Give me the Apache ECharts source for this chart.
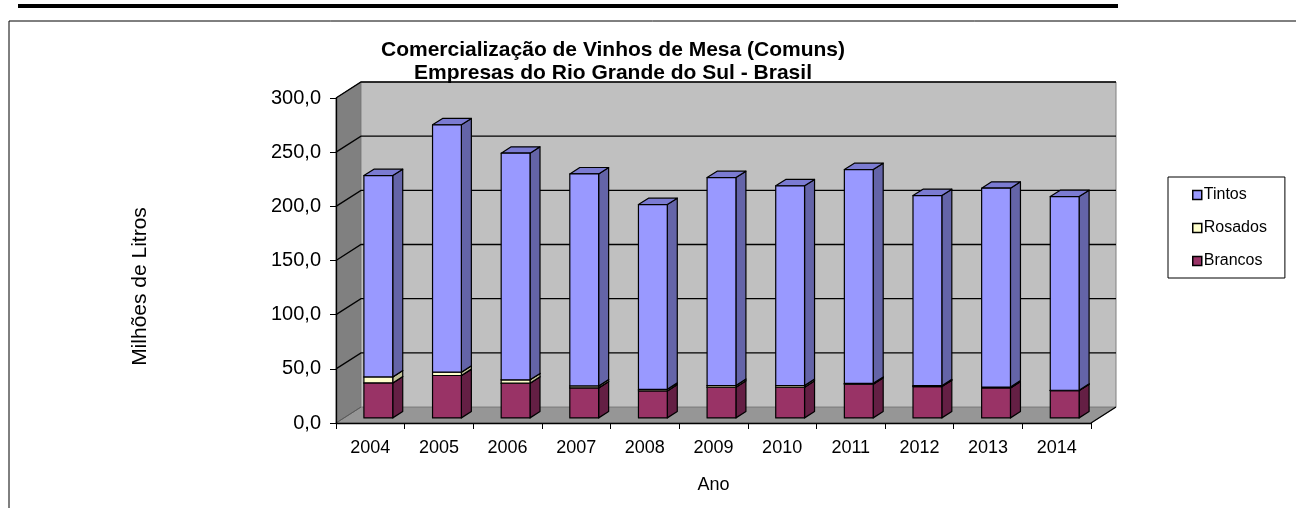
<!DOCTYPE html>
<html>
<head>
<meta charset="utf-8">
<script src="https://cdn.jsdelivr.net/npm/echarts@6/dist/echarts.min.js"></script>
<style>
html,body{margin:0;padding:0;background:#ffffff;}
#chart{width:1296px;height:508px;}
</style>
</head>
<body>
<div id="chart"></div>
<script>
// ---------- data ----------
const years   = ['2004','2005','2006','2007','2008','2009','2010','2011','2012','2013','2014'];
const brancos = [32.3, 39.1, 32.0, 27.7, 24.9, 28.3, 28.3, 31.1, 28.9, 27.7, 25.2];
const rosados = [5.5, 3.1, 3.1, 1.8, 1.5, 1.6, 1.6, 0.8, 0.8, 0.8, 0.3];
const tintos  = [185.9, 228.3, 209.2, 195.7, 170.5, 191.9, 184.3, 197.3, 175.5, 183.5, 178.8];
const yTicks  = [0, 50, 100, 150, 200, 250, 300];
const seriesNames = ['Brancos', 'Rosados', 'Tintos'];

// ---------- style ----------
const FONT = '"Liberation Sans", Arial, sans-serif';
const WALL_DX = 25, WALL_DY = -16;           // depth of the 3D box (px)
const BAR_FRONT = 0.32, BAR_BACK = 0.72;      // bar position inside the depth
const BAR_W = 0.42;                            // bar width as share of band
const palette = {
  Tintos:  {front:'#9999FF', top:'#7B7BD2', side:'#6464A8'},
  Rosados: {front:'#FFFFCC', top:'#D6D6A8', side:'#BDBD96'},
  Brancos: {front:'#993366', top:'#7D2A54', side:'#641F44'}
};

// stacked bases
const stackData = {};
(function(){
  const vals = {Brancos: brancos, Rosados: rosados, Tintos: tintos};
  const base = years.map(() => 0);
  seriesNames.forEach(n => {
    stackData[n] = years.map((y, i) => {
      const b = base[i], t = b + vals[n][i];
      base[i] = t;
      return [i, b, t];
    });
  });
})();

function wallsRender(params, api) {
  const cs = params.coordSys;
  const x0 = cs.x, x1 = cs.x + cs.width;
  const yv = v => api.coord([0, v])[1];
  const yTop = yv(yTicks[yTicks.length - 1]), yBot = yv(yTicks[0]);
  const ch = [];
  ch.push({type:'polygon', shape:{points:[[x0,yBot],[x1,yBot],[x1+WALL_DX,yBot+WALL_DY],[x0+WALL_DX,yBot+WALL_DY]]},
           style:{fill:'#969696', stroke:'#808080', lineWidth:1}});
  ch.push({type:'polygon', shape:{points:[[x0,yTop],[x0+WALL_DX,yTop+WALL_DY],[x0+WALL_DX,yBot+WALL_DY],[x0,yBot]]},
           style:{fill:'#808080', stroke:'#6a6a6a', lineWidth:1}});
  ch.push({type:'polygon', shape:{points:[[x0+WALL_DX,yTop+WALL_DY],[x1+WALL_DX,yTop+WALL_DY],[x1+WALL_DX,yBot+WALL_DY],[x0+WALL_DX,yBot+WALL_DY]]},
           style:{fill:'#C0C0C0', stroke:'#808080', lineWidth:1}});
  yTicks.forEach(v => {
    const y = yv(v);
    if (v === yTicks[0]) {
      ch.push({type:'line', shape:{x1:x0,y1:y,x2:x0+WALL_DX,y2:y+WALL_DY}, style:{stroke:'#5a5a5a', lineWidth:1}});
    } else {
      ch.push({type:'polyline', shape:{points:[[x0,y],[x0+WALL_DX,y+WALL_DY],[x1+WALL_DX,y+WALL_DY]]},
               style:{stroke:'#000', lineWidth:1.3, fill:null}});
    }
  });
  ch.push({type:'line', shape:{x1:x1,y1:yBot,x2:x1+WALL_DX,y2:yBot+WALL_DY}, style:{stroke:'#000', lineWidth:1.3}});
  return {type:'group', children: ch};
}

function makeBarRender(name) {
  const c = palette[name];
  return function(params, api) {
    const i = api.value(0);
    const pb = api.coord([i, api.value(1)]);
    const pt = api.coord([i, api.value(2)]);
    const band = api.size([1, 0])[0];
    const w = band * BAR_W;
    const fx = WALL_DX * BAR_FRONT, fy = WALL_DY * BAR_FRONT;
    const dx = WALL_DX * (BAR_BACK - BAR_FRONT), dy = WALL_DY * (BAR_BACK - BAR_FRONT);
    const xl = pb[0] - w / 2 + fx, xr = xl + w;
    const yb = pb[1] + fy, yt = pt[1] + fy;
    const st = fill => ({fill: fill, stroke:'#000', lineWidth:1.2, lineJoin:'round'});
    return {type:'group', children:[
      {type:'polygon', shape:{points:[[xr,yb],[xr+dx,yb+dy],[xr+dx,yt+dy],[xr,yt]]}, style: st(c.side)},
      {type:'polygon', shape:{points:[[xl,yt],[xr,yt],[xr+dx,yt+dy],[xl+dx,yt+dy]]}, style: st(c.top)},
      {type:'polygon', shape:{points:[[xl,yb],[xr,yb],[xr,yt],[xl,yt]]}, style: st(c.front)}
    ]};
  };
}

const series = [{
  type:'custom', name:'walls', z:1, silent:true, clip:false,
  renderItem: wallsRender, data: [[0, 0]], encode:{x:0, y:1}
}];
seriesNames.forEach(n => {
  series.push({
    type:'custom', name:n, z:4, clip:false,
    itemStyle:{color: palette[n].front, borderColor:'#000', borderWidth:1},
    renderItem: makeBarRender(n), data: stackData[n], encode:{x:0, y:[1,2]}
  });
});

const chart = echarts.init(document.getElementById('chart'), null, {renderer:'canvas'});
chart.setOption({
  animation:false,
  backgroundColor:'#ffffff',
  textStyle:{fontFamily: FONT, color:'#000'},
  title:{
    text:'Comercialização de Vinhos de Mesa (Comuns)\nEmpresas do Rio Grande do Sul - Brasil',
    left:608, top:34, textAlign:'center',
    textStyle:{fontFamily: FONT, fontSize:21, fontWeight:'bold', lineHeight:23, color:'#000'}
  },
  legend:{
    orient:'vertical', left:1168, top:177,
    data:[
      {name:'Tintos',  itemStyle:{color:palette.Tintos.front,  borderColor:'#000', borderWidth:1.5}},
      {name:'Rosados', itemStyle:{color:palette.Rosados.front, borderColor:'#000', borderWidth:1.5}},
      {name:'Brancos', itemStyle:{color:palette.Brancos.front, borderColor:'#000', borderWidth:1.5}}
    ],
    icon:'rect', itemWidth:9, itemHeight:9, itemGap:17,
    padding:[10, 18, 9, 24],
    borderColor:'#000', borderWidth:1, backgroundColor:'#fff',
    textStyle:{fontFamily: FONT, fontSize:16, color:'#000', padding:[0,0,0,-3]}
  },
  grid:{left:336, top:98, width:755, height:325, containLabel:false},
  xAxis:{
    type:'category', data: years, z:3,
    axisLine:{show:true, lineStyle:{color:'#000', width:1.3}},
    axisTick:{show:true, length:6, lineStyle:{color:'#000', width:1}},
    axisLabel:{fontFamily: FONT, fontSize:18, color:'#000', margin:16},
    name:'Ano', nameLocation:'middle', nameGap:53,
    nameTextStyle:{fontFamily: FONT, fontSize:18, color:'#000'},
    splitLine:{show:false}
  },
  yAxis:{
    type:'value', min:yTicks[0], max:yTicks[yTicks.length-1], interval:yTicks[1]-yTicks[0], z:3,
    axisLine:{show:true, lineStyle:{color:'#000', width:1.3}},
    axisTick:{show:true, length:6, lineStyle:{color:'#000', width:1}},
    axisLabel:{fontFamily: FONT, fontSize:20, color:'#000', margin:15,
               formatter: v => v.toFixed(1).replace('.', ',')},
    splitLine:{show:false},
    name:'Milhões de Litros', nameLocation:'middle', nameRotate:90, nameGap:185,
    nameTextStyle:{fontFamily: FONT, fontSize:21, color:'#000', padding:[0,52,0,0]}
  },
  graphic:[
    {type:'rect', shape:{x:18, y:4, width:1100, height:4}, style:{fill:'#000'}, silent:true},
    {type:'polyline', shape:{points:[[9,508],[9,21],[1296,21]]}, style:{stroke:'#000', lineWidth:1, fill:null}, silent:true}
  ],
  series: series
});
</script>
</body>
</html>
